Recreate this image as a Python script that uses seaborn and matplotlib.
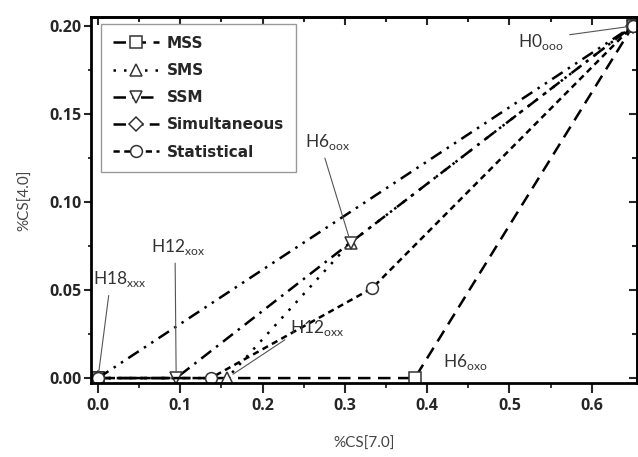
import numpy as np
import pandas as pd
import matplotlib
matplotlib.use("Agg")
import matplotlib.pyplot as plt
import seaborn as sns

# values (x = %CS[7.0], y = %CS[4.0])
mss_x = [0.0, 0.0, 0.385, 0.65]
mss_y = [0.0, 0.0, 0.0, 0.20]
sms_x = [0.0, 0.157, 0.307, 0.65]
sms_y = [0.0, 0.0, 0.077, 0.20]
ssm_x = [0.0, 0.095, 0.307, 0.65]
ssm_y = [0.0, 0.0, 0.077, 0.20]
sim_x = [0.0, 0.65]
sim_y = [0.0, 0.20]
stat_x = [0.0, 0.137, 0.333, 0.65]
stat_y = [0.0, 0.0, 0.051, 0.20]

x_ticks = [0.0, 0.1, 0.2, 0.3, 0.4, 0.5, 0.6]
y_ticks = [0.00, 0.05, 0.10, 0.15, 0.20]

sns.set_style("ticks")
plt.rcParams['font.family'] = ['Lato', 'DejaVu Sans']
plt.rcParams['mathtext.fontset'] = 'custom'
plt.rcParams['mathtext.rm'] = 'Lato'

fig = plt.figure(figsize=(6.38, 4.57), dpi=100)
ax = fig.add_axes([91 / 638, 74 / 457, (637 - 91) / 638, (440 - 74) / 457])

series = [
    ("MSS", mss_x, mss_y, "s", (0, (5, 3))),
    ("SMS", sms_x, sms_y, "^", (0, (1, 3.2))),
    ("SSM", ssm_x, ssm_y, "v", (0, (5, 2.5, 1, 2.5))),
    ("Simultaneous", sim_x, sim_y, "D", (0, (5, 2.5, 1, 2.5, 1, 2.5))),
    ("Statistical", stat_x, stat_y, "o", (0, (2.5, 1.8))),
]

for name, xs, ys, mk, ls in series:
    df = pd.DataFrame({"x": xs, "y": ys})
    sns.lineplot(data=df, x="x", y="y", ax=ax, sort=False, estimator=None,
                 color="black", linewidth=1.8, linestyle=ls, marker=mk,
                 markersize=8.5 if mk != "D" else 7, markerfacecolor="white",
                 markeredgecolor="#333333", markeredgewidth=1.1, label=name)

tick_font = {"family": ["Open Sans", "DejaVu Sans"], "weight": "bold", "size": 11.5}

ax.set_xlim(-0.0085, 0.655)
ax.set_ylim(-0.0028, 0.2051)
ax.set_xticks(x_ticks)
ax.set_yticks(y_ticks)
ax.set_xticklabels([f"{v:.1f}" for v in x_ticks], fontdict=tick_font)
ax.set_yticklabels([f"{v:.2f}" for v in y_ticks], fontdict=tick_font)
ax.set_xticks(np.arange(0.05, 0.65, 0.1), minor=True)
ax.set_yticks(np.arange(0.025, 0.2, 0.05), minor=True)
ax.tick_params(axis="x", which="major", direction="out", length=7, width=1.5, pad=4)
ax.tick_params(axis="x", which="minor", direction="out", length=3.5, width=1.3)
ax.tick_params(axis="y", which="major", direction="out", length=5, width=1.5, pad=2)
ax.tick_params(axis="y", which="minor", direction="out", length=2.5, width=1.3)

# mirrored ticks pointing inward on top and right
top = ax.secondary_xaxis("top")
top.set_xticks(x_ticks)
top.set_xticks(np.arange(0.05, 0.65, 0.1), minor=True)
top.tick_params(which="both", direction="in", labeltop=False, width=1.5)
top.tick_params(which="major", length=5.5)
top.tick_params(which="minor", length=3.5)
right = ax.secondary_yaxis("right")
right.set_yticks(y_ticks)
right.set_yticks(np.arange(0.025, 0.2, 0.05), minor=True)
right.tick_params(which="both", direction="in", labelright=False, width=1.5)
right.tick_params(which="major", length=5.5)
right.tick_params(which="minor", length=3.5)

for sp in ax.spines.values():
    sp.set_visible(True)
    sp.set_linewidth(2)
    sp.set_color("black")
top.spines["top"].set_linewidth(2)
right.spines["right"].set_linewidth(2)

ax.set_xlabel("%CS[7.0]", fontsize=11, color="#444444", labelpad=16)
ax.set_ylabel("%CS[4.0]", fontsize=11, color="#444444", labelpad=12)

leg = ax.legend(loc="upper left", bbox_to_anchor=(0.018, 0.982), borderaxespad=0,
                frameon=True, fancybox=False, edgecolor="#999999", framealpha=1,
                handlelength=3.0, handletextpad=0.5, labelspacing=0.8,
                borderpad=0.8, numpoints=1,
                prop={"family": "DejaVu Sans", "weight": "bold", "size": 11})
leg.get_frame().set_linewidth(1.0)

# state labels
arrow = dict(arrowstyle="-", color="#555555", lw=0.8)
lab = dict(ha="center", va="center", fontsize=12.5, color="#333333")
ax.annotate(r"H18$_{\mathregular{xxx}}$", xy=(0.0, 0.0), xytext=(0.027, 0.056),
            arrowprops=dict(arrow, relpos=(0.3, 0.0), shrinkB=5), **lab)
ax.annotate(r"H12$_{\mathregular{xox}}$", xy=(0.095, 0.0), xytext=(0.097, 0.0744),
            arrowprops=dict(arrow, relpos=(0.45, 0.0), shrinkB=4), **lab)
ax.annotate(r"H12$_{\mathregular{oxx}}$", xy=(0.157, 0.0), xytext=(0.267, 0.0284),
            arrowprops=dict(arrow, relpos=(0.0, 0.1), shrinkB=5), **lab)
ax.annotate(r"H6$_{\mathregular{oox}}$", xy=(0.307, 0.077), xytext=(0.279, 0.134),
            arrowprops=dict(arrow, relpos=(0.4, 0.0), shrinkB=5), **lab)
ax.annotate(r"H0$_{\mathregular{ooo}}$", xy=(0.65, 0.20), xytext=(0.538, 0.191),
            arrowprops=dict(arrow, relpos=(0.8, 0.75), shrinkB=5), **lab)
ax.text(0.447, 0.009, r"H6$_{\mathregular{oxo}}$", **lab)

fig.savefig("out.png", dpi=100)
